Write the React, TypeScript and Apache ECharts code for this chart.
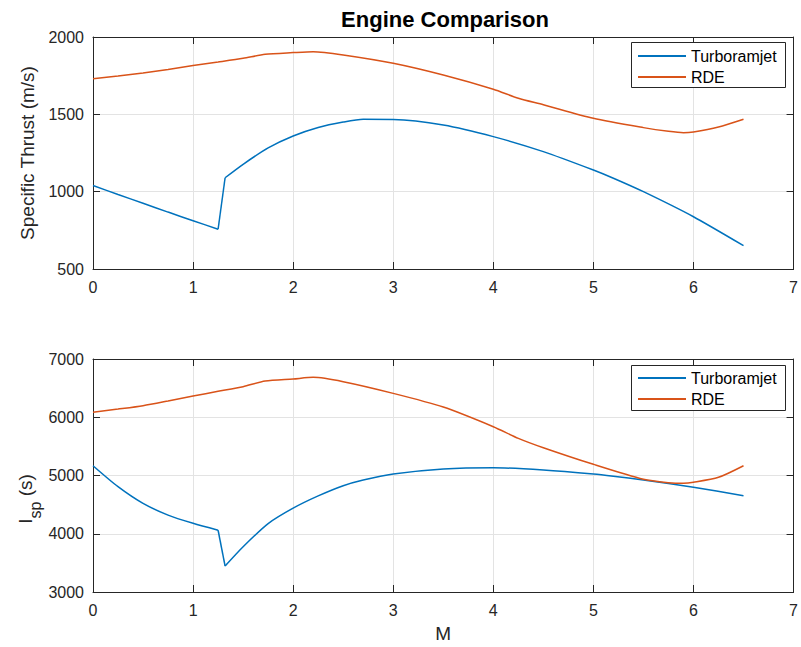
import React, { useEffect, useRef } from "react";
import * as echarts from "echarts";

const FONT = '"Liberation Sans", Arial, Helvetica, sans-serif';
const AXIS_COLOR = "#262626";
const GRID_COLOR = "#e3e3e3";
const BLUE = "#0072BD";
const ORANGE = "#D95319";

const seriesNames = ["Turboramjet", "RDE"];
const xTicks = [0, 7, 1];

const turboMach = [0, 0.25, 0.5, 0.75, 1, 1.25, 1.32, 1.5, 1.75, 2, 2.25, 2.5, 2.7, 3, 3.5, 4, 4.5, 5, 5.2, 5.5, 6, 6.5];
const turboThrust = [1040, 982, 925, 868, 812, 757, 1090, 1177, 1283, 1360, 1415, 1450, 1468, 1467, 1431, 1356, 1259, 1140, 1087, 1000, 838, 651];
const turboIsp = [5168, 4808, 4521, 4320, 4179, 4060, 3446, 3777, 4175, 4440, 4650, 4825, 4923, 5026, 5112, 5134, 5094, 5026, 4988, 4923, 4798, 4654];
// index of the last point before the mode switch (turbojet -> ramjet)
const switchIndex = 5;

const rdeMach = [0, 0.25, 0.5, 0.75, 1, 1.25, 1.5, 1.72, 2, 2.2, 2.5, 3, 3.5, 4, 4.25, 4.5, 5, 5.5, 5.75, 5.9, 6, 6.25, 6.5];
const rdeThrust = [1730, 1748, 1768, 1790, 1815, 1838, 1862, 1888, 1899, 1905, 1884, 1830, 1754, 1662, 1604, 1562, 1474, 1414, 1390, 1381, 1386, 1418, 1468];
const rdeIsp = [6085, 6140, 6199, 6280, 6365, 6445, 6525, 6622, 6657, 6685, 6610, 6410, 6175, 5838, 5638, 5477, 5192, 4935, 4877, 4866, 4883, 4969, 5168];

const thrustRange = [500, 2000, 500];
const ispRange = [3000, 7000, 1000];

const pairs = (xs: number[], ys: number[]) => xs.map((x, i) => [x, ys[i]]);

export default function App() {
  const ref = useRef<HTMLDivElement>(null);
  useEffect(() => {
    if (!ref.current) return;
    const chart = echarts.init(ref.current, null, { renderer: "svg" });

    const xBase = (gridIndex: number, pos: "top" | "bottom", labels: boolean, extra: any = {}) => ({
      type: "value",
      gridIndex,
      position: pos,
      min: xTicks[0],
      max: xTicks[1],
      interval: xTicks[2],
      axisLine: { show: true, onZero: false, lineStyle: { color: AXIS_COLOR, width: 1 } },
      axisTick: { show: true, inside: true, length: 7, lineStyle: { color: AXIS_COLOR } },
      axisLabel: { show: labels, color: AXIS_COLOR, fontSize: 16, fontFamily: FONT, margin: 10, formatter: (v: number) => String(v) },
      splitLine: { show: labels, lineStyle: { color: GRID_COLOR, width: 1 } },
      ...extra,
    });
    const yBase = (gridIndex: number, pos: "left" | "right", range: number[], labels: boolean, extra: any = {}) => ({
      type: "value",
      gridIndex,
      position: pos,
      min: range[0],
      max: range[1],
      interval: range[2],
      axisLine: { show: true, onZero: false, lineStyle: { color: AXIS_COLOR, width: 1 } },
      axisTick: { show: true, inside: true, length: 7, lineStyle: { color: AXIS_COLOR } },
      axisLabel: { show: labels, color: AXIS_COLOR, fontSize: 16, fontFamily: FONT, margin: 9, formatter: (v: number) => String(v) },
      splitLine: { show: labels, lineStyle: { color: GRID_COLOR, width: 1 } },
      ...extra,
    });

    const line = (name: string, color: string, data: number[][], xi: number, yi: number, smooth: number | boolean) => ({
      type: "line",
      name,
      data,
      xAxisIndex: xi,
      yAxisIndex: yi,
      symbol: "none",
      showSymbol: false,
      smooth,
      z: 5,
      lineStyle: { color, width: 1.5 },
      itemStyle: { color },
    });

    const turboSegments = (ys: number[], xi: number, yi: number) => [
      line(seriesNames[0], BLUE, pairs(turboMach.slice(0, switchIndex + 1), ys.slice(0, switchIndex + 1)), xi, yi, 0.25),
      line(seriesNames[0], BLUE, pairs(turboMach.slice(switchIndex, switchIndex + 2), ys.slice(switchIndex, switchIndex + 2)), xi, yi, false),
      line(seriesNames[0], BLUE, pairs(turboMach.slice(switchIndex + 1), ys.slice(switchIndex + 1)), xi, yi, 0.25),
    ];

    const legend = (top: number) => ({
      data: seriesNames,
      orient: "vertical",
      left: 638,
      top,
      padding: 0,
      itemGap: 5,
      icon: "rect",
      itemWidth: 48,
      itemHeight: 2,
      selectedMode: false,
      textStyle: { color: "#000", fontSize: 16, fontFamily: FONT, lineHeight: 16 },
      z: 10,
    });

    chart.setOption({
      animation: false,
      backgroundColor: "#ffffff",
      grid: [
        { left: 93, top: 37, width: 704, height: 232 },
        { left: 93, top: 359, width: 704, height: 233 },
      ],
      xAxis: [
        xBase(0, "bottom", true),
        xBase(0, "top", false),
        xBase(1, "bottom", true, {
          name: "M",
          nameLocation: "middle",
          nameGap: 31,
          nameTextStyle: { color: AXIS_COLOR, fontSize: 19, fontFamily: FONT, lineHeight: 20 },
        }),
        xBase(1, "top", false),
      ],
      yAxis: [
        yBase(0, "left", thrustRange, true, {
          name: "Specific Thrust (m/s)",
          nameLocation: "middle",
          nameGap: 39,
          nameTextStyle: { color: AXIS_COLOR, fontSize: 19, fontFamily: FONT, lineHeight: 20 },
        }),
        yBase(0, "right", thrustRange, false),
        yBase(1, "left", ispRange, true),
        yBase(1, "right", ispRange, false),
      ],
      legend: [legend(48), legend(370)],
      graphic: [
        {
          type: "text",
          x: 445,
          y: 19,
          z: 10,
          style: {
            text: "Engine Comparison",
            fontSize: 22,
            fontWeight: "bold",
            fontFamily: FONT,
            fill: "#000",
            align: "center",
            verticalAlign: "middle",
          },
        },
        {
          type: "text",
          x: 25,
          y: 499,
          rotation: Math.PI / 2,
          z: 10,
          style: {
            text: "{a|I}{b|sp}{a| (s)}",
            align: "center",
            verticalAlign: "middle",
            rich: {
              a: { fontSize: 19, fontFamily: FONT, fill: AXIS_COLOR, lineHeight: 36, verticalAlign: "middle" },
              b: { fontSize: 16, fontFamily: FONT, fill: AXIS_COLOR, lineHeight: 16, verticalAlign: "bottom" },
            },
          },
        },
        {
          type: "rect",
          z: 3,
          shape: { x: 631.5, y: 42.5, width: 154, height: 45 },
          style: { fill: "#ffffff", stroke: AXIS_COLOR, lineWidth: 1 },
        },
        {
          type: "rect",
          z: 3,
          shape: { x: 631.5, y: 365.5, width: 154, height: 45 },
          style: { fill: "#ffffff", stroke: AXIS_COLOR, lineWidth: 1 },
        },
      ],
      series: [
        ...turboSegments(turboThrust, 0, 0),
        line(seriesNames[1], ORANGE, pairs(rdeMach, rdeThrust), 0, 0, 0.25),
        ...turboSegments(turboIsp, 2, 2),
        line(seriesNames[1], ORANGE, pairs(rdeMach, rdeIsp), 2, 2, 0.25),
      ],
    });
    return () => chart.dispose();
  }, []);
  return (
    <div
      ref={ref}
      style={{ position: "fixed", left: 0, top: 0, width: 801, height: 647, background: "#fff" }}
    />
  );
}
